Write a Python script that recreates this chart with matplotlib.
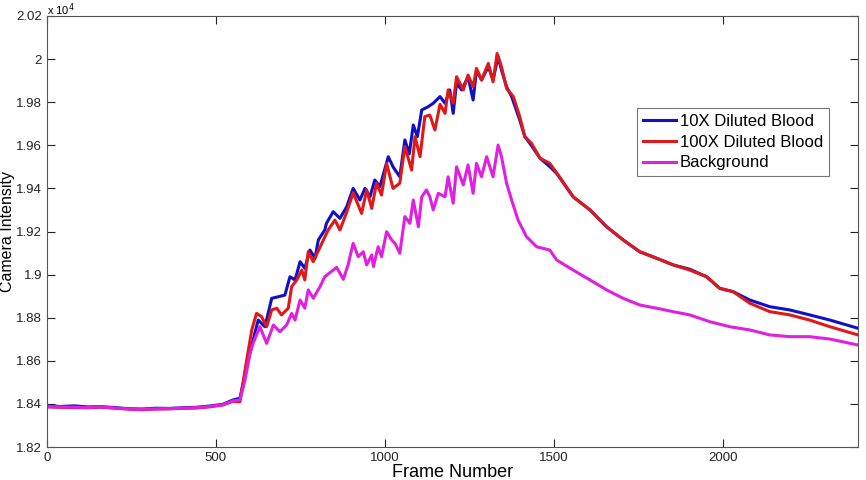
import numpy as np
import matplotlib
matplotlib.use('Agg')
import matplotlib.pyplot as plt

plt.rcParams['font.family'] = ['Liberation Sans', 'DejaVu Sans']

# camera intensity in units of 1e4 counts
base_frames = [0, 40, 80, 120, 160, 200, 240, 280, 320, 360, 400, 440, 480, 520, 550]
blue_base = [1.8392, 1.8388, 1.8391, 1.8386, 1.8387, 1.8383, 1.8378, 1.8376, 1.8380,
             1.8379, 1.8382, 1.8384, 1.8390, 1.8398, 1.8418]
red_base = [1.8386, 1.8384, 1.8383, 1.8382, 1.8385, 1.8380, 1.8376, 1.8373, 1.8376,
            1.8377, 1.8379, 1.8381, 1.8386, 1.8395, 1.8412]
mag_base = [1.8388, 1.8386, 1.8385, 1.8383, 1.8386, 1.8381, 1.8377, 1.8375, 1.8377,
            1.8378, 1.8380, 1.8382, 1.8388, 1.8396, 1.8414]

blue_frames = [571, 591, 610, 625, 645, 665, 684, 704, 719, 734, 749, 763, 778, 793, 803,
               822, 827, 847, 867, 887, 906, 926, 941, 956, 970, 985, 1010, 1024, 1044,
               1059, 1072, 1084, 1096, 1109, 1128, 1143, 1163, 1178, 1192, 1202, 1212,
               1227, 1246, 1261, 1271, 1286, 1306, 1320, 1335, 1345, 1360, 1375, 1399,
               1414, 1429, 1459, 1488, 1508, 1557, 1607, 1656, 1705, 1754, 1804, 1853,
               1902, 1952, 1991, 2030, 2080, 2139, 2198, 2257, 2317, 2400]
blue_vals = [1.8426, 1.8573, 1.8697, 1.8789, 1.8758, 1.8890, 1.8897, 1.8905, 1.8990,
             1.8975, 1.9060, 1.9029, 1.9114, 1.9076, 1.9161, 1.9207, 1.9238, 1.9292,
             1.9261, 1.9315, 1.9400, 1.9346, 1.9400, 1.9361, 1.9439, 1.9408, 1.9547,
             1.9500, 1.9454, 1.9625, 1.9560, 1.9694, 1.9640, 1.9764, 1.9779, 1.9795,
             1.9826, 1.9795, 1.9857, 1.9748, 1.9888, 1.9857, 1.9918, 1.9810, 1.9949,
             1.9903, 1.9965, 1.9903, 2.0011, 1.9949, 1.9872, 1.9826, 1.9717, 1.9640,
             1.9609, 1.9540, 1.9501, 1.9470, 1.9361, 1.9300, 1.9222, 1.9161, 1.9106,
             1.9076, 1.9045, 1.9025, 1.8990, 1.8936, 1.8921, 1.8882, 1.8851, 1.8836,
             1.8813, 1.8789, 1.8751]

red_frames = [571, 591, 606, 620, 635, 650, 665, 680, 694, 714, 724, 739, 754, 763, 773,
              788, 818, 832, 852, 867, 887, 906, 931, 946, 961, 975, 990, 1005, 1024,
              1044, 1059, 1079, 1089, 1104, 1118, 1133, 1148, 1163, 1178, 1187, 1202,
              1212, 1232, 1246, 1261, 1271, 1286, 1306, 1320, 1332, 1345, 1360, 1380,
              1399, 1414, 1434, 1459, 1488, 1513, 1557, 1607, 1656, 1705, 1754, 1804,
              1853, 1902, 1952, 1991, 2030, 2080, 2139, 2198, 2257, 2317, 2400]
red_vals = [1.8410, 1.8604, 1.8743, 1.8820, 1.8805, 1.8758, 1.8836, 1.8844, 1.8813,
            1.8844, 1.8944, 1.8975, 1.9021, 1.8975, 1.9106, 1.9060, 1.9161, 1.9207,
            1.9253, 1.9207, 1.9290, 1.9380, 1.9284, 1.9393, 1.9307, 1.9424, 1.9369,
            1.9516, 1.9400, 1.9424, 1.9594, 1.9485, 1.9640, 1.9547, 1.9733, 1.9740,
            1.9671, 1.9790, 1.9748, 1.9857, 1.9795, 1.9918, 1.9857, 1.9926, 1.9872,
            1.9957, 1.9903, 1.9980, 1.9895, 2.0026, 1.9965, 1.9864, 1.9826, 1.9733,
            1.9640, 1.9609, 1.9540, 1.9516, 1.9462, 1.9361, 1.9300, 1.9222, 1.9161,
            1.9106, 1.9076, 1.9045, 1.9021, 1.8990, 1.8936, 1.8921, 1.8867, 1.8828,
            1.8813, 1.8789, 1.8758, 1.8720]

mag_frames = [571, 586, 601, 610, 630, 650, 670, 689, 709, 724, 734, 749, 763, 773, 788,
              808, 822, 847, 857, 877, 891, 906, 921, 936, 946, 961, 966, 980, 990, 1005,
              1020, 1030, 1044, 1059, 1074, 1084, 1099, 1109, 1123, 1133, 1143, 1158,
              1178, 1187, 1202, 1212, 1232, 1246, 1261, 1271, 1286, 1301, 1320, 1335,
              1345, 1360, 1375, 1394, 1419, 1449, 1488, 1508, 1557, 1607, 1656, 1705,
              1754, 1804, 1853, 1902, 1962, 2021, 2080, 2139, 2198, 2257, 2317, 2400]
mag_vals = [1.8418, 1.8511, 1.8636, 1.8681, 1.8758, 1.8681, 1.8766, 1.8735, 1.8766,
            1.8820, 1.8789, 1.8882, 1.8844, 1.8929, 1.8890, 1.8944, 1.8990, 1.9021,
            1.9034, 1.8978, 1.9045, 1.9145, 1.9083, 1.9106, 1.9045, 1.9091, 1.9037,
            1.9129, 1.9083, 1.9199, 1.9161, 1.9145, 1.9099, 1.9269, 1.9238, 1.9346,
            1.9222, 1.9361, 1.9393, 1.9361, 1.9300, 1.9377, 1.9361, 1.9454, 1.9331,
            1.9500, 1.9416, 1.9509, 1.9377, 1.9516, 1.9454, 1.9547, 1.9454, 1.9601,
            1.9547, 1.9424, 1.9346, 1.9253, 1.9176, 1.9129, 1.9114, 1.9068, 1.9021,
            1.8975, 1.8929, 1.8890, 1.8859, 1.8844, 1.8828, 1.8813, 1.8781, 1.8758,
            1.8743, 1.8720, 1.8712, 1.8712, 1.8701, 1.8673]

x_ticks = [0, 500, 1000, 1500, 2000]
y_ticks = [1.82, 1.84, 1.86, 1.88, 1.90, 1.92, 1.94, 1.96, 1.98, 2.00, 2.02]

fig = plt.figure(figsize=(8.66, 4.8), dpi=100)
ax = fig.add_axes([47 / 866, 1 - 447 / 480, (858 - 47) / 866, (447 - 16) / 480])

ax.plot(base_frames + blue_frames, blue_base + blue_vals, color='#1010c8', linewidth=2.2,
        label='10X Diluted Blood')
ax.plot(base_frames + red_frames, red_base + red_vals, color='#e01818', linewidth=2.2,
        label='100X Diluted Blood')
ax.plot(base_frames + mag_frames, mag_base + mag_vals, color='#e020e0', linewidth=2.2,
        label='Background')

ax.set_xlim(0, 2400)
ax.set_ylim(1.82, 2.02)
ax.set_xticks(x_ticks)
ax.set_yticks(y_ticks)
ax.set_yticklabels(['%g' % round(v, 2) for v in y_ticks])
ax.tick_params(direction='in', top=True, right=True, length=6, labelsize=9.5, colors='#222222')
for s in ax.spines.values():
    s.set_color('#555555')
ax.set_xlabel('Frame Number', fontsize=13, labelpad=0)
ax.set_ylabel('Camera Intensity', fontsize=11.5)
ax.yaxis.set_label_coords(-0.039, 0.5)
fig.text(47 / 866, 1 - 10 / 480, r'x 10$^4$', fontsize=8, va='center', ha='left')

leg = ax.legend(loc='upper left', bbox_to_anchor=(637 / 866, 1 - 108 / 480),
                bbox_transform=fig.transFigure, fontsize=12, fancybox=False,
                handlelength=2.0, handletextpad=0.2, borderpad=0.35, labelspacing=0.35,
                borderaxespad=0)
leg.get_frame().set_edgecolor('#555555')
leg.get_frame().set_linewidth(0.8)

fig.savefig('out.png', dpi=100)
